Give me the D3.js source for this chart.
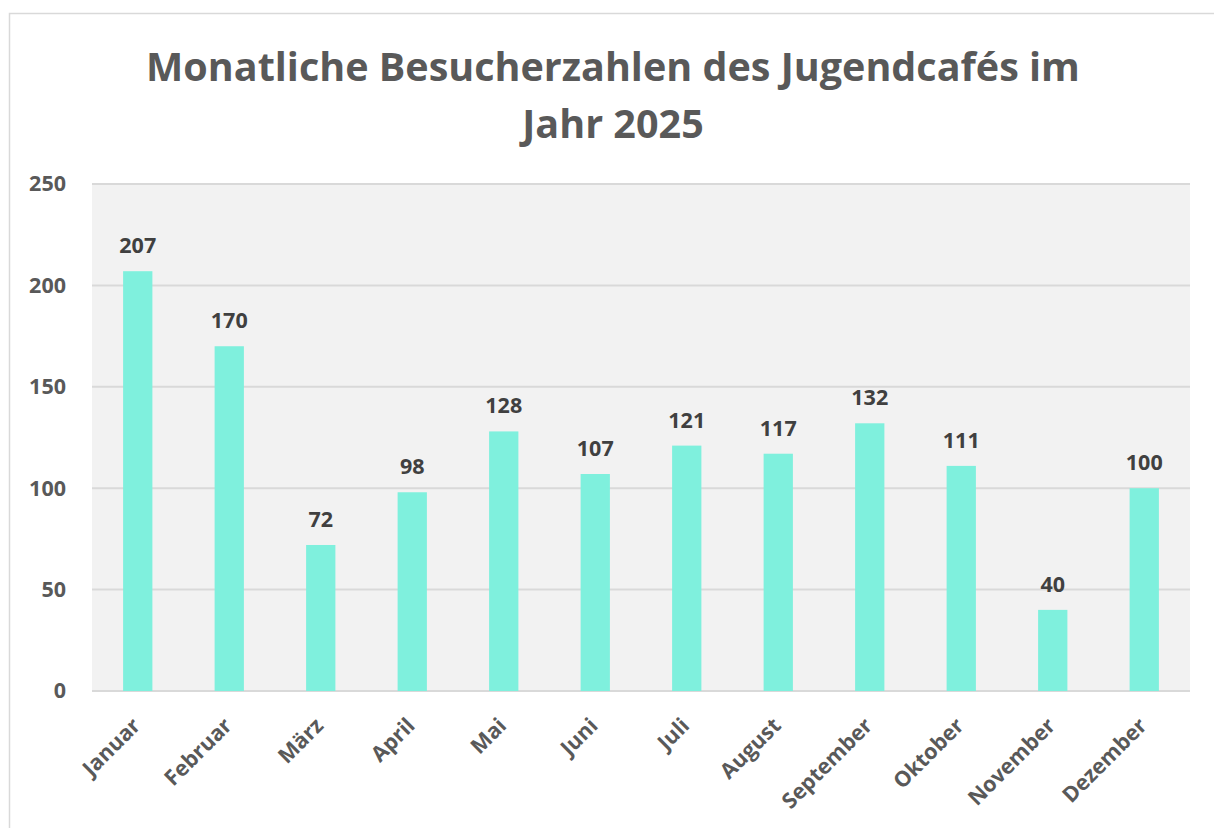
<!DOCTYPE html>
<html><head><meta charset="utf-8">
<script src="https://cdn.jsdelivr.net/npm/d3@7"></script>
<style>body{margin:0;background:#fff;}svg{display:block;font-family:"Open Sans",sans-serif;}</style>
</head><body>
<svg id="c" width="1214" height="828"></svg>
<script>
const months = ["Januar","Februar","März","April","Mai","Juni","Juli","August","September","Oktober","November","Dezember"];
const visitors = [207,170,72,98,128,107,121,117,132,111,40,100];
const yTicks = [0,50,100,150,200,250];
const titleLines = ["Monatliche Besucherzahlen des Jugendcafés im","Jahr 2025"];

const svg = d3.select("#c");
svg.append("rect").attr("x",9.5).attr("y",13.5).attr("width",1240).attr("height",900)
  .attr("fill","#fff").attr("stroke","#d9d9d9").attr("stroke-width",1.5);

const L=92,R=1190,T=184,B=691;
const x = d3.scaleBand().domain(months).range([L,R]).paddingInner(0.68).paddingOuter(0.34);
const y = d3.scaleLinear().domain([0,250]).range([B,T]);

svg.append("rect").attr("x",L).attr("y",T).attr("width",R-L).attr("height",B-T).attr("fill","#f2f2f2");

const g = svg.append("g");
g.selectAll("line.grid").data(yTicks).join("line")
  .attr("x1",L).attr("x2",R).attr("y1",d=>y(d)).attr("y2",d=>y(d))
  .attr("stroke","#d9d9d9").attr("stroke-width",2);

g.selectAll("rect.bar").data(visitors).join("rect")
  .attr("x",(d,i)=>x(months[i])).attr("width",x.bandwidth())
  .attr("y",d=>y(d)).attr("height",d=>y(0)-y(d)).attr("fill","#7ff0dd");

g.selectAll("text.val").data(visitors).join("text")
  .attr("x",(d,i)=>x(months[i])+x.bandwidth()/2).attr("y",d=>y(d)-18)
  .attr("text-anchor","middle").attr("font-size",21.5).attr("font-weight","bold").attr("fill","#404040")
  .text(d=>d);

const yAxis = d3.axisLeft(y).tickValues(yTicks).tickSize(0).tickPadding(26);
svg.append("g").attr("transform",`translate(${L},0)`).call(yAxis)
  .call(a=>a.select(".domain").remove())
  .selectAll("text").attr("font-size",21.5).attr("font-weight","bold").attr("fill","#595959")
  .attr("font-family","Open Sans");

const xAxis = d3.axisBottom(x).tickSize(0).tickPadding(0);
svg.append("g").attr("transform",`translate(0,${B})`).call(xAxis)
  .call(a=>a.select(".domain").remove())
  .selectAll("text").attr("font-size",21.5).attr("font-weight","bold").attr("fill","#595959")
  .attr("font-family","Open Sans")
  .attr("text-anchor","end").attr("dy",0)
  .attr("transform","translate(4,36) rotate(-45)");

svg.selectAll("text.title").data(titleLines).join("text")
  .attr("x",613).attr("y",(d,i)=>81+i*57).attr("text-anchor","middle")
  .attr("font-size",39.5).attr("font-weight","bold").attr("fill","#595959").text(d=>d);
</script>
</body></html>
